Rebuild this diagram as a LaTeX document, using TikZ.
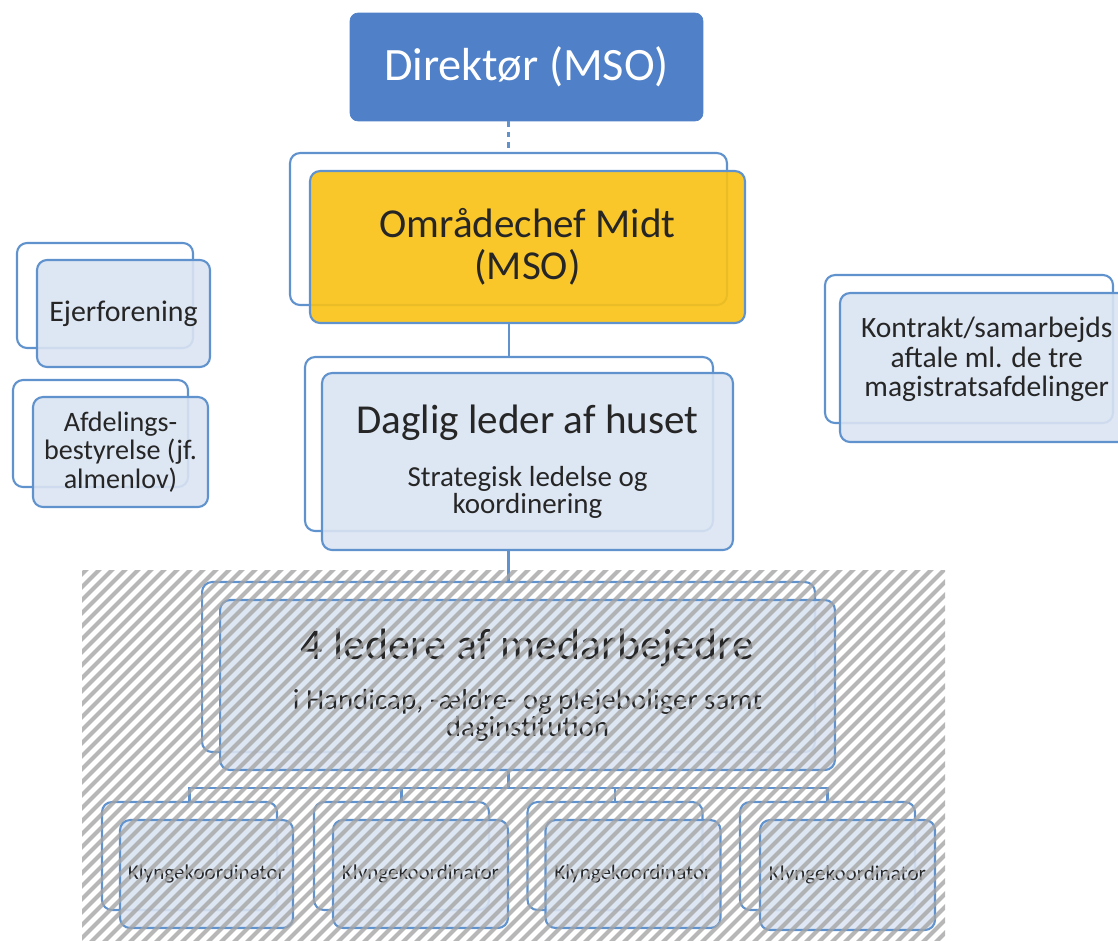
\documentclass[tikz,border=0pt]{standalone}
\usepackage{fontspec}
\setmainfont{Carlito}
\definecolor{mainblue}{RGB}{79,128,200}
\definecolor{edgeblue}{RGB}{96,146,206}
\definecolor{paleblue}{RGB}{218,228,242}
\definecolor{chefgold}{RGB}{250,194,20}
\definecolor{hatchgray}{RGB}{165,165,165}

\begin{document}
\begin{tikzpicture}[x=0.02cm,y=-0.02cm,
	    every node/.style={inner sep=0pt,align=center,text=black!85},
	    frame/.style={draw=edgeblue,line width=1.2pt,rounded corners=0.2cm,fill=white},
	    card/.style={draw=edgeblue,line width=1.2pt,rounded corners=0.2cm,fill=paleblue,fill opacity=0.9,text opacity=1},
	    link/.style={draw=edgeblue,line width=1.2pt},
	    hatchline/.style={hatchgray,line width=2.3pt,opacity=0.8}]
	    \useasboundingbox (0,0) rectangle (1118,940);
	    % top of the tree
	    \node[draw=mainblue,fill=mainblue,rounded corners=0.16cm,minimum width=7.06cm,minimum height=2.16cm,text=white,font=\fontsize{26.4}{30}\selectfont] (dir) at (526.5,67) {Direktør (MSO)};
	    \node[frame,minimum width=8.74cm,minimum height=3.04cm] (omrback) at (508.5,229) {};
	    \node[card,fill=chefgold,minimum width=8.7cm,minimum height=3.04cm,font=\fontsize{23.4}{24}\selectfont] (omr) at (527.5,247) {Områdechef Midt\\(MSO)};
	    \node[frame,minimum width=8.16cm,minimum height=3.48cm] (dagback) at (509,444) {};
	    \node[card,minimum width=8.22cm,minimum height=3.54cm] (dag) at (527.5,461.5) {\fontsize{23.4}{27}\selectfont Daglig leder af huset\\[14pt]\fontsize{16.5}{17}\selectfont Strategisk ledelse og\\\fontsize{16.5}{17}\selectfont koordinering};
	    \node[frame,minimum width=12.26cm,minimum height=3.4cm] (ledback) at (508.5,667) {};
	    \node[card,minimum width=12.3cm,minimum height=3.4cm] (led) at (527.5,685) {\fontsize{25}{29}\selectfont 4 ledere af medarbejedre\\[12pt]\fontsize{16.5}{16}\selectfont i Handicap, -ældre- og plejeboliger samt\\\fontsize{16.5}{16}\selectfont daginstitution};
	    % klyngekoordinatorer
	    \node[frame,minimum width=3.5cm,minimum height=2.16cm] (kb1) at (189.5,856) {};
	    \node[card,minimum width=3.46cm,minimum height=2.16cm,font=\fontsize{12}{14}\selectfont] (k1) at (206.5,874) {Klyngekoordinator};
	    \node[frame,minimum width=3.5cm,minimum height=2.16cm] (kb2) at (401.5,856) {};
	    \node[card,minimum width=3.5cm,minimum height=2.16cm,font=\fontsize{12}{14}\selectfont] (k2) at (420.5,874) {Klyngekoordinator};
	    \node[frame,minimum width=3.5cm,minimum height=2.16cm] (kb3) at (615,856) {};
	    \node[card,minimum width=3.5cm,minimum height=2.16cm,font=\fontsize{12}{14}\selectfont] (k3) at (633,874) {Klyngekoordinator};
	    \node[frame,minimum width=3.5cm,minimum height=2.16cm] (kb4) at (827.5,856) {};
	    \node[card,minimum width=3.5cm,minimum height=2.2cm,font=\fontsize{12}{14}\selectfont] (k4) at (847.5,875) {Klyngekoordinator};
	    % side boxes
	    \node[frame,minimum width=3.52cm,minimum height=2.1cm] (ejerback) at (105,295.5) {};
	    \node[card,minimum width=3.46cm,minimum height=2.14cm,font=\fontsize{17}{20}\selectfont] (ejer) at (123.5,313.5) {Ejerforening};
	    \node[frame,minimum width=3.5cm,minimum height=2.14cm] (afdback) at (100.5,433.5) {};
	    \node[card,minimum width=3.5cm,minimum height=2.2cm,font=\fontsize{16}{16.4}\selectfont] (afd) at (120.5,452) {Afdelings-\\bestyrelse (jf.\\almenlov)};
	    \node[frame,minimum width=5.76cm,minimum height=2.96cm] (konback) at (969,349) {};
	    \node[card,minimum width=5.8cm,minimum height=2.98cm,
	          label={[font=\fontsize{16.8}{16.6}\selectfont,yshift=4.6pt,xshift=1pt]center:{Kontrakt/samarbejds\\aftale ml. de tre\\magistratsafdelinger}}] (kon) at (985,367.5) {};
	    % connectors
	    \draw[link,dashed] (dir.south -| omrback.north) -- (omrback.north);
	    \draw[link] (omr.south -| dagback.north) -- (dagback.north);
	    \draw[link] (dag.south -| ledback.north) -- (ledback.north);
	    \foreach \k in {kb1,kb2,kb3,kb4}
	        \draw[link] (led.south -| ledback.south) -- ++(0,17) -| (\k.north);
	    % hatched area
	    \begin{scope}
	        \clip (82,570) rectangle (945,940);
	        \foreach \x in {-320,-307,...,950}
	            \draw[hatchline] (\x,950) -- ++(400,-400);
	    \end{scope}
\end{tikzpicture}
\end{document}
